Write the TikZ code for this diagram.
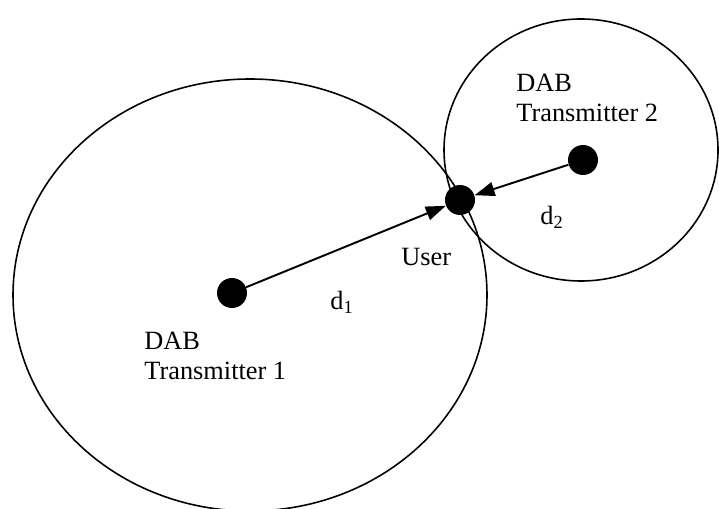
\documentclass[tikz,border=0pt]{standalone}
\usepackage{fontspec}
\setmainfont{Liberation Serif}
\usepackage{xcolor}
\usetikzlibrary{arrows.meta}

\tikzset{
  station/.style={circle, fill=black, inner sep=0pt, minimum size=0.6cm},
  coverage/.style={line width=0.9pt},
  link/.style={line width=1.1pt, -{Triangle[length=0.4cm, width=0.28cm]}},
  lbl/.style={font=\fontsize{15}{17}\selectfont, inner sep=0pt, align=left, anchor=west},
}

\begin{document}
\begin{tikzpicture}[x=0.02cm, y=-0.02cm]
  \useasboundingbox (0,0) rectangle (719,509);

  % --- Coverage areas ---
  \draw[coverage] (250,295) ellipse [x radius=237, y radius=216];
  \draw[coverage] (581,150) ellipse [x radius=137, y radius=131];

  % --- Transmitters and user ---
  \node[station] (tx1) at (232,293) {};
  \node[station] (tx2) at (583,160) {};
  \node[station] (user) at (460,200) {};

  % Distances
  \draw[link] (tx1) -- (user);
  \draw[link] (tx2) -- (user);

  % --- Labels ---
  \node[lbl] (tx1lbl) at (144,356) {DAB\\Transmitter 1};
  \node[lbl] (tx2lbl) at (516,98) {DAB\\Transmitter 2};
  \node[lbl] (userlbl) at (401,257) {User};
  \node[lbl] (d1lbl) at (330,302) {d\textsubscript{1}};
  \node[lbl] (d2lbl) at (540,217) {d\textsubscript{2}};
\end{tikzpicture}
\end{document}
